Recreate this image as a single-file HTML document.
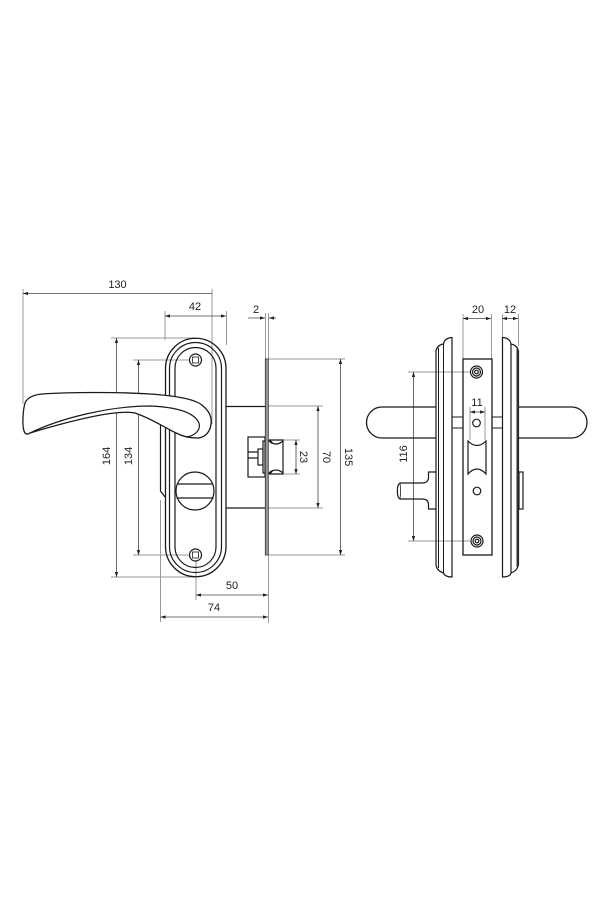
<!DOCTYPE html>
<html><head><meta charset="utf-8"><style>html,body{margin:0;padding:0;background:#fff}svg{display:block}text{font-family:"Liberation Sans",sans-serif;font-size:11px;fill:#222;text-anchor:middle}</style></head>
<body><svg width="600" height="900" viewBox="0 0 600 900" xmlns="http://www.w3.org/2000/svg">
<defs><marker id="a" viewBox="0 0 6 4" refX="6" refY="2" markerWidth="5" markerHeight="3.4" orient="auto-start-reverse" markerUnits="userSpaceOnUse"><path d="M0 0L6 2L0 4Z" fill="#222"/></marker></defs>
<!-- extension lines -->
<g fill="none" stroke="#999" stroke-width="1">
<path d="M23 289V404M212 289V424M165 311V340M226.500 311V345M265.500 313V359M268.500 313V359"/>
<path d="M111 338H195M133 360H190M111 577H196M133 555H190"/>
<path d="M268 359H345M268 555H345M268 406H323M268 508H323M283 440H300M283 474H300"/>
<path d="M196 560V600M160.500 500V622M268.500 555V623"/>
<path d="M463 314V359M491.500 314V359M502.500 314V338M518.500 314V346M470 407V440M485 407V440"/>
<path d="M408 372H470M408 541H470"/>
</g>
<!-- dimension lines -->
<g fill="none" stroke="#444" stroke-width="0.8">
<path d="M23 293.500H212" marker-start="url(#a)"/>
<path d="M165 316H226" marker-start="url(#a)" marker-end="url(#a)"/>
<path d="M116.500 338V577" marker-start="url(#a)" marker-end="url(#a)"/>
<path d="M138.500 360V555" marker-start="url(#a)" marker-end="url(#a)"/>
<path d="M248 318H265" marker-end="url(#a)"/><path d="M276 318H269" marker-end="url(#a)"/>
<path d="M340.500 359V555" marker-start="url(#a)" marker-end="url(#a)"/>
<path d="M318 406V508" marker-start="url(#a)" marker-end="url(#a)"/>
<path d="M296 440V474" marker-start="url(#a)" marker-end="url(#a)"/>
<path d="M196 595H268" marker-start="url(#a)" marker-end="url(#a)"/>
<path d="M160.500 617H268" marker-start="url(#a)" marker-end="url(#a)"/>
<path d="M463 318.500H491" marker-start="url(#a)" marker-end="url(#a)"/>
<path d="M502 318.500H518" marker-start="url(#a)" marker-end="url(#a)"/>
<path d="M470 412H485" marker-start="url(#a)" marker-end="url(#a)"/>
<path d="M413.500 372V541" marker-start="url(#a)" marker-end="url(#a)"/>
</g>
<!-- left view -->
<g fill="none" stroke="#1a1a1a" stroke-width="1.200">
<path d="M165.500 546.500V368.500A30.250 30.250 0 0 1 226 368.500V546.500A30.250 30.250 0 0 1 165.500 546.500Z" stroke-width="1.300"/>
<path d="M169.500 546.500V368.500A26 26 0 0 1 221.500 368.500V546.500A26 26 0 0 1 169.500 546.500Z"/>
<path d="M175 547V368A20.500 20.500 0 0 1 216 368V547A20.500 20.500 0 0 1 175 547Z"/>
<circle cx="195.500" cy="360" r="6"/><rect x="192.500" y="357" width="6" height="6" stroke-width=".8"/>
<circle cx="195.500" cy="555" r="6"/><rect x="192.500" y="552" width="6" height="6" stroke-width=".8"/>
<path d="M160.500 425V491L165 497"/>
<circle cx="195" cy="491" r="19" fill="#fff"/>
<path d="M178 484H212M176.500 498H213.500"/>
<path d="M226 406.500H265M226 508H265" stroke-width="1.300"/>
<rect x="248" y="437" width="17" height="40"/>
<path d="M248 452H258M248 458H258"/>
<rect x="258" y="449" width="5" height="16" fill="#fff"/>
<rect x="263" y="441" width="2" height="32" fill="#fff"/>
<rect x="265.300" y="359" width="3" height="196" fill="#999" stroke="#333" stroke-width=".8"/>
<path d="M269 440H283V474H269M269 441Q276 447 283 441M269 473Q276 467 283 473" fill="#fff"/>
<path d="M269 440L272 443M269 474L272 471" stroke-width="2"/>
<path d="M25 403C27 398 32 395 42 394C70 392 120 392 150 394C180 396 197 400 203 406C209 411 212 417 211 424C210 433 204 438 197 438C190 438 184 437 176 433C162 426 150 418 135 413C125 411 100 412 30 433C27 435 25 434 24 431C22 425 23 410 25 403Z" fill="#fff" stroke-width="1.300"/>
<path d="M28 434C60 418 110 406 150 406C175 407 194 412 199 423C201 430 195 436 186 437"/>
</g>
<!-- right view -->
<g fill="none" stroke="#1a1a1a" stroke-width="1.200">
<path d="M436 565V351Q437 345 443.500 344Q444.500 338 452 337.500V577Q445 577 443.500 573Q437 571 436 565Z"/>
<path d="M438.500 348V568M443.500 344V573" stroke-width="1"/>
<path d="M502.500 337.500Q510 338 511 344Q517 345 518.500 351V565Q517 571 511 573Q510 577 502.500 577Z"/>
<path d="M511 344V573"/>
<path d="M517.500 349V567" stroke-width="2" stroke="#333"/>
<path d="M436 407H382A15.500 15.500 0 0 0 382 438H436M519 407H571.500A15.500 15.500 0 0 1 571.500 438H519" stroke-width="1.300"/>
<rect x="463" y="359" width="29" height="196" stroke-width="1.300"/>
<path d="M452 417H463M452 428H463M492 417H502M492 428H502" stroke-width=".9"/>
<path d="M468 441V474Q477 464 486 474V441Q477 450 468 441Z"/>
<circle cx="476.500" cy="423" r="3.800"/><circle cx="477" cy="491" r="3.800"/>
<circle cx="476.500" cy="372" r="6"/><circle cx="476.500" cy="372" r="4"/><circle cx="476.500" cy="372" r="1.800"/>
<circle cx="477" cy="541" r="6"/><circle cx="477" cy="541" r="4"/><circle cx="477" cy="541" r="1.800"/>
<path d="M436 472H428.500V478Q428 483 422 483H400Q397 485 397.500 491Q397 497 400 499H422Q428 499 428.500 504V509H436"/>
<path d="M400 483Q401 491 400 499" stroke-width=".8"/>
<rect x="519" y="472" width="4" height="37"/>
</g>
<!-- labels -->
<text x="117.500" y="288">130</text>
<text x="195" y="310">42</text>
<text x="256" y="313">2</text>
<text x="232" y="589">50</text>
<text x="214" y="611">74</text>
<text x="478" y="313">20</text>
<text x="510" y="313">12</text>
<text x="477" y="406">11</text>
<text transform="translate(110 456) rotate(-90)">164</text>
<text transform="translate(132 456) rotate(-90)">134</text>
<text transform="translate(407 454) rotate(-90)">116</text>
<text transform="translate(300 457) rotate(90)">23</text>
<text transform="translate(323 457) rotate(90)">70</text>
<text transform="translate(345 457) rotate(90)">135</text>
</svg></body></html>
